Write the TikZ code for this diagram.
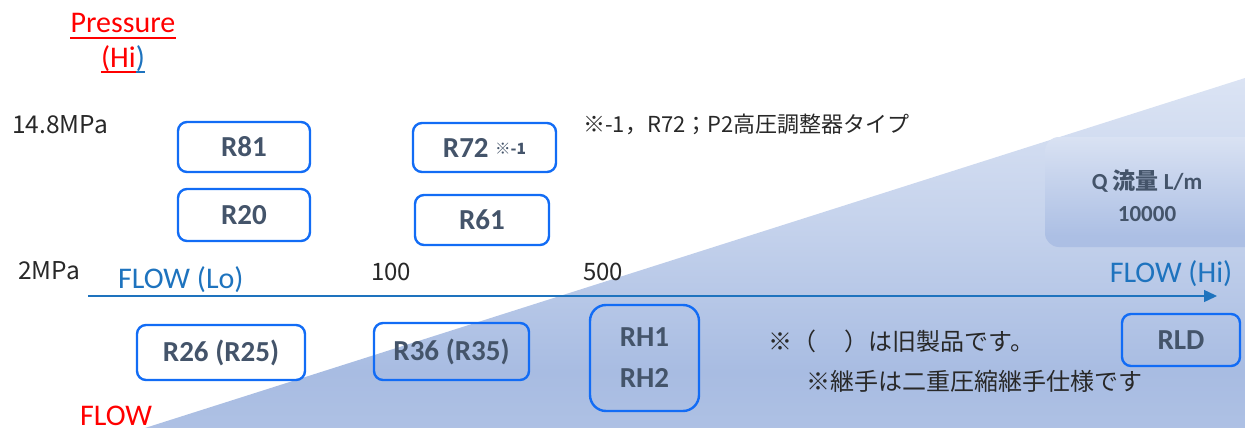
\documentclass[tikz,border=0pt]{standalone}
\usepackage{fontspec}
\setmainfont{Carlito}
\newfontfamily\jp{Noto Sans CJK JP}
\usetikzlibrary{arrows.meta}
\definecolor{boxblue}{RGB}{18,108,245}
\definecolor{lblue}{RGB}{30,115,190}
\definecolor{slate}{RGB}{68,84,106}
\definecolor{ntext}{RGB}{40,40,40}
\definecolor{tc1}{RGB}{243,246,252}
\definecolor{tc2}{RGB}{168,188,226}
\definecolor{tc3}{RGB}{192,207,234}
\definecolor{qc1}{RGB}{242,245,251}
\definecolor{qc2}{RGB}{172,191,228}
\pgfdeclareverticalshading{trishade}{100bp}{color(0bp)=(tc3); color(33bp)=(tc2); color(55bp)=(tc2!60!tc1); color(80bp)=(tc2!25!tc1); color(100bp)=(tc1)}
\pgfdeclareverticalshading{qshade}{100bp}{color(0bp)=(qc2); color(30bp)=(qc2); color(100bp)=(qc1)}
\tikzset{
  prod/.style={draw=boxblue, line width=2.4pt, rounded corners=9pt, inner sep=0pt,
    font=\fontsize{29}{35}\selectfont\bfseries, text=slate, align=center},
  jptxt/.style={inner sep=0pt, font=\jp\fontsize{22}{27}\selectfont, text=ntext},
  lat/.style={inner sep=0pt, font=\fontsize{30}{36}\selectfont},
}
\begin{document}
\begin{tikzpicture}[x=1pt,y=-1pt]
\useasboundingbox (0,0) rectangle (1245,428);
% background triangle
\shade[shading=trishade] (145,428) -- (1245,78) -- (1245,428) -- cycle;
% Q flow box
\begin{scope}
\clip (0,0) rectangle (1245,428);
\shade[shading=qshade, rounded corners=14pt] (1045,137) rectangle (1265,247);
\end{scope}
\node[inner sep=0pt, text=slate, font=\fontsize{23}{28}\selectfont\bfseries, align=center] (q) at (1147,196)
  {Q {\jp 流量} L/m\\[4pt]10000};
% axis
\draw[lblue, line width=1.4pt, -{Triangle[length=13pt,width=12pt]}] (88,296) coordinate (a0) -- (1217,296) coordinate (a1);
% titles
\node[lat, text=red, anchor=base] (pr) at (123,33) {Pressure};
\node[lat, text=red, anchor=base] (hi) at (123,67) {(Hi\textcolor{lblue}{)}};
\draw[red, line width=1.6pt] (pr.south west |- 0,38) -- (pr.south east |- 0,38);
\draw[red, line width=1.6pt] (hi.south west |- 0,72) -- ([xshift=-9pt]hi.south east |- 0,72);
\draw[lblue, line width=1.6pt] ([xshift=-9pt]hi.south east |- 0,72) -- (hi.south east |- 0,72);
% axis labels
\node[jptxt, anchor=base west, font=\jp\fontsize{24.5}{29}\selectfont] (p148) at (12,133) {14.8MPa};
\node[jptxt, anchor=base west, font=\jp\fontsize{24.5}{29}\selectfont] (p2) at (18,279) {2MPa};
\node[jptxt, anchor=base, font=\jp\fontsize{24}{29}\selectfont] (f100) at (391,280) {100};
\node[jptxt, anchor=base, font=\jp\fontsize{24}{29}\selectfont] (f500) at (603,280) {500};
\node[lat, text=lblue, anchor=base west] (flo) at (118,288) {FLOW (Lo)};
\node[lat, text=lblue, anchor=base] (fhi) at (1171,282) {FLOW (Hi)};
\node[lat, text=red, anchor=base west] (flow) at (80,425) {FLOW};
% notes
\node[jptxt, anchor=base west] (n1) at (583,132) {※-1，R72；P2高圧調整器タイプ};
\node[jptxt, anchor=base west, font=\jp\fontsize{24}{29}\selectfont] (n2) at (768,350) {※（\hspace{1.2em}）は旧製品です。};
\node[jptxt, anchor=base west, font=\jp\fontsize{24}{29}\selectfont] (n3) at (806,390) {※継手は二重圧縮継手仕様です};
% product boxes
\node[prod, minimum width=132pt, minimum height=50pt] (r81) at (244,147) {R81};
\node[prod, minimum width=132pt, minimum height=52pt] (r20) at (244,215) {R20};
\node[prod, minimum width=143pt, minimum height=49pt] (r72) at (484.5,147.5) {R72 {\jp\bfseries\fontsize{15.5}{17}\selectfont\raisebox{3pt}{※-1}}};
\node[prod, minimum width=134pt, minimum height=50pt] (r61) at (482,220) {R61};
\node[prod, minimum width=168pt, minimum height=55pt] (r26) at (221,352.5) {R26 (R25)};
\node[prod, minimum width=155pt, minimum height=57pt] (r36) at (451.5,351.5) {R36 (R35)};
\node[prod, minimum width=109pt, minimum height=106pt, rounded corners=16pt] (rh) at (644.5,358) {RH1\\[6pt]RH2};
\node[prod, minimum width=118pt, minimum height=52pt] (rld) at (1181,340) {RLD};
\end{tikzpicture}
\end{document}
